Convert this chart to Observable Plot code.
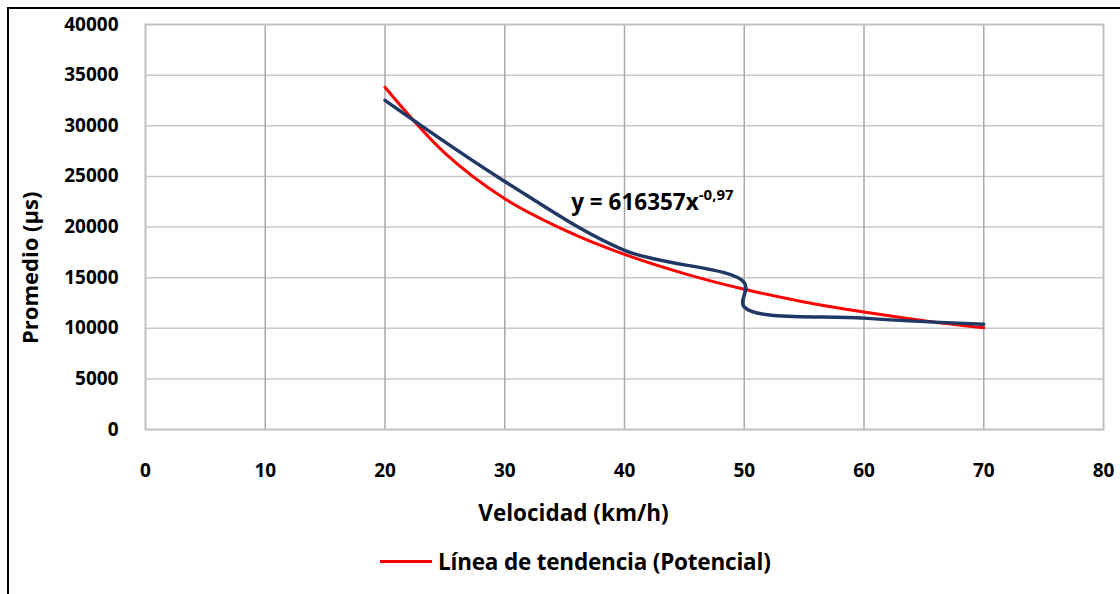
<!DOCTYPE html>
<html>
<head>
<meta charset="utf-8">
<script src="https://cdn.jsdelivr.net/npm/d3@7"></script>
<script src="https://cdn.jsdelivr.net/npm/@observablehq/plot@0.6"></script>
<style>
  html, body { margin: 0; padding: 0; background: #fff; }
  #wrap { position: relative; width: 1120px; height: 594px; overflow: hidden; background: #fff; font-family: "Open Sans", sans-serif; }
  #border { position: absolute; left: 7px; top: 7px; width: 1200px; height: 700px; border: 2px solid #000; box-sizing: border-box; }
  #chart { position: absolute; left: 0; top: 0; }
  #legend { position: absolute; left: 380px; top: 546px; display: flex; align-items: center; font-weight: 700; font-size: 22.5px; color: #000; letter-spacing: -0.2px; }
  #legend .sw { width: 52px; height: 3px; background: #ff0000; margin-right: 6px; }
</style>
</head>
<body>
<div id="wrap">
  <div id="border"></div>
  <div id="chart"></div>
  <div id="legend"><div class="sw"></div><span>Línea de tendencia (Potencial)</span></div>
</div>
<script>
const velocidad = [20, 30, 40, 50, 50, 60, 70];
const promedio  = [32500, 24500, 17700, 14500, 12100, 11000, 10400];

// Power trend line
const tendVel = [20, 25, 30, 35, 40, 45, 50, 55, 60, 65, 70];
const tendVal = [33800, 27300, 22800, 19700, 17300, 15400, 13850, 12600, 11600, 10750, 10050];

const xTicks = [0, 10, 20, 30, 40, 50, 60, 70, 80];
const yTicks = [0, 5000, 10000, 15000, 20000, 25000, 30000, 35000, 40000];

const xLabel = "Velocidad (km/h)";
const yLabel = "Promedio (µs)";
const eqMain = "y = 616357x";
const eqSup = "-0,97";
const eqX = 46.2, eqY = 22400;

const serie = velocidad.map((v, i) => ({x: v, y: promedio[i]}));
const tend = tendVel.map((v, i) => ({x: v, y: tendVal[i]}));

const chart = Plot.plot({
  width: 1120,
  height: 540,
  marginLeft: 145,
  marginRight: 17,
  marginTop: 24,
  marginBottom: 111,
  x: {domain: [0, 80]},
  y: {domain: [0, 40000]},
  style: {fontFamily: "'Open Sans', sans-serif", fontWeight: 700, fontSize: "18px", color: "#000", background: "transparent"},
  marks: [
    Plot.gridY({ticks: yTicks.slice(1, -1), stroke: "#c8c8c8", strokeOpacity: 1, strokeWidth: 1.5}),
    Plot.gridX({ticks: xTicks.slice(1, -1), stroke: "#a8a8a8", strokeOpacity: 1, strokeWidth: 1.5}),
    Plot.frame({stroke: "#bfbfbf", strokeWidth: 2}),
    Plot.axisX({ticks: xTicks, tickSize: 0, tickPadding: 34, label: null, tickFormat: d => String(d), fontSize: 19}),
    Plot.axisY({ticks: yTicks, tickSize: 0, tickPadding: 27, label: null, tickFormat: d => String(d), fontSize: 19}),
    Plot.text([xLabel], {frameAnchor: "bottom", dx: -51, dy: 91, fontSize: 22.5, fontWeight: 700}),
    Plot.text([yLabel], {frameAnchor: "left", dx: -115, dy: 117, rotate: -90, fontSize: 22, fontWeight: 700}),
    Plot.line(tend, {x: "x", y: "y", stroke: "#ff0000", strokeWidth: 3, curve: "catmull-rom"}),
    Plot.line(serie, {x: "x", y: "y", stroke: "#203864", strokeWidth: 3.5, curve: "catmull-rom"}),
    Plot.text([eqMain], {x: () => eqX, y: () => eqY, textAnchor: "end", fontSize: 22.5, fontWeight: 700}),
    Plot.text([eqSup], {x: () => eqX, y: () => eqY, textAnchor: "start", dy: -8, fontSize: 15, fontWeight: 700})
  ]
});
document.getElementById("chart").appendChild(chart);
</script>
</body>
</html>
